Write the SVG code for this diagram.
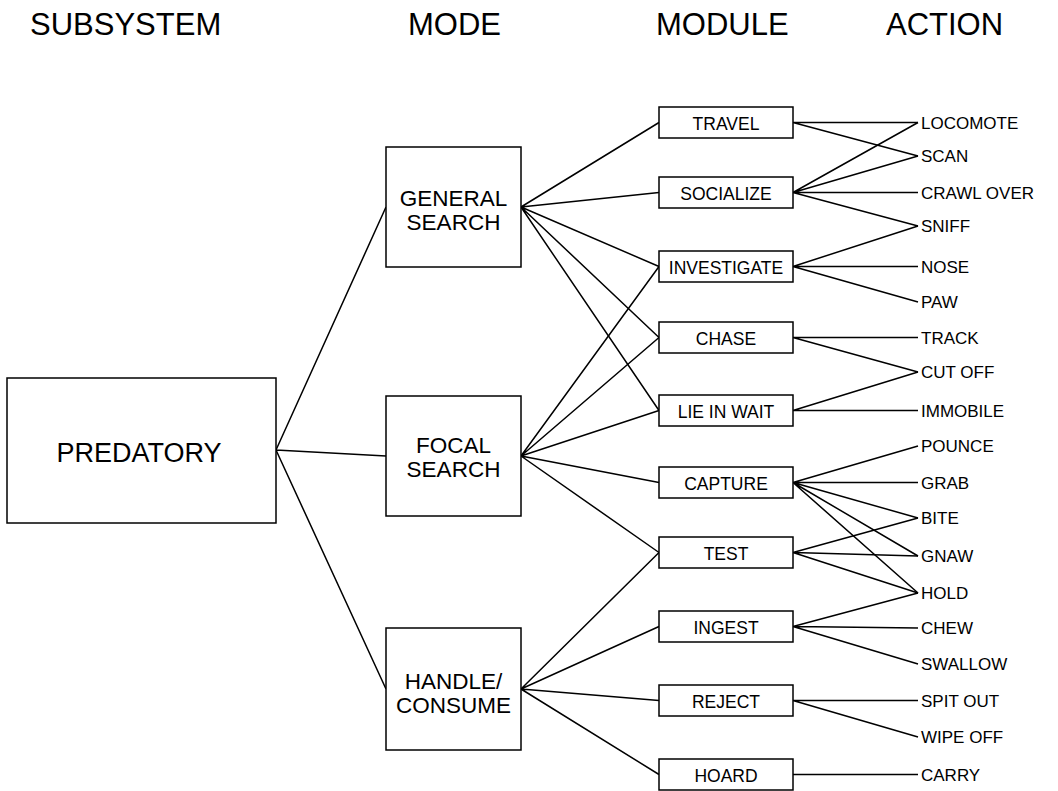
<svg xmlns="http://www.w3.org/2000/svg" width="1058" height="791" viewBox="0 0 1058 791">
<style>
.box{fill:#fff;stroke:#000;stroke-width:1.5}
.ln{stroke:#000;stroke-width:1.5;fill:none}
text{font-family:"Liberation Sans",Arial,sans-serif;fill:#000}
.hd{font-size:31px}
.md{font-size:22.5px;text-anchor:middle}
.mo{font-size:17.5px;text-anchor:middle}
.ac{font-size:17px}
</style>
<rect width="1058" height="791" fill="#fff"/>
<g id="headers">
<text class="hd" x="30" y="35">SUBSYSTEM</text>
<text class="hd" x="408" y="35">MODE</text>
<text class="hd" x="656" y="35">MODULE</text>
<text class="hd" x="886" y="35">ACTION</text>
</g>
<g id="connectors" class="ln">
<path d="M276 450L386 207M276 450L386 456M276 450L386 689"/>
<path d="M521 207L659 122.5M521 207L659 192.5M521 207L659 266.5M521 207L659 337.5M521 207L659 410.5"/>
<path d="M521 456L659 266.5M521 456L659 337.5M521 456L659 410.5M521 456L659 482.5M521 456L659 552.5"/>
<path d="M521 689L659 552.5M521 689L659 626.5M521 689L659 700.5M521 689L659 774.5"/>
<path d="M793 122.5L918 122.5M793 122.5L918 156"/>
<path d="M793 192.5L918 122.5M793 192.5L918 156M793 192.5L918 192.5M793 192.5L918 226"/>
<path d="M793 266.5L918 226M793 266.5L918 266.5M793 266.5L918 302"/>
<path d="M793 337.5L918 337.5M793 337.5L918 372"/>
<path d="M793 410.5L918 372M793 410.5L918 410.5"/>
<path d="M793 482.5L918 446M793 482.5L918 482.5M793 482.5L918 518M793 482.5L918 556M793 482.5L918 593"/>
<path d="M793 552.5L918 518M793 552.5L918 556M793 552.5L918 593"/>
<path d="M793 626.5L918 593M793 626.5L918 628M793 626.5L918 664"/>
<path d="M793 700.5L918 700.5M793 700.5L918 737"/>
<path d="M793 774.5L918 774.5"/>
</g>
<g id="predatory"><rect class="box" x="7" y="378" width="269" height="145"/><text x="139" y="462" font-size="27" text-anchor="middle">PREDATORY</text></g>
<g id="general-search"><rect class="box" x="386" y="147" width="135" height="120"/><text class="md" x="453.5" y="206">GENERAL</text><text class="md" x="453.5" y="230">SEARCH</text></g>
<g id="focal-search"><rect class="box" x="386" y="396" width="135" height="120"/><text class="md" x="453.5" y="453">FOCAL</text><text class="md" x="453.5" y="477">SEARCH</text></g>
<g id="handle-consume"><rect class="box" x="386" y="628" width="135" height="122"/><text class="md" x="453.5" y="689">HANDLE/</text><text class="md" x="453.5" y="713">CONSUME</text></g>
<g id="travel"><rect class="box" x="659" y="107" width="134" height="31"/><text class="mo" x="726" y="129.5">TRAVEL</text></g>
<g id="socialize"><rect class="box" x="659" y="177" width="134" height="31"/><text class="mo" x="726" y="199.5">SOCIALIZE</text></g>
<g id="investigate"><rect class="box" x="659" y="251" width="134" height="31"/><text class="mo" x="726" y="273.5">INVESTIGATE</text></g>
<g id="chase"><rect class="box" x="659" y="322" width="134" height="31"/><text class="mo" x="726" y="344.5">CHASE</text></g>
<g id="lie-in-wait"><rect class="box" x="659" y="395" width="134" height="31"/><text class="mo" x="726" y="417.5">LIE IN WAIT</text></g>
<g id="capture"><rect class="box" x="659" y="467" width="134" height="31"/><text class="mo" x="726" y="489.5">CAPTURE</text></g>
<g id="test"><rect class="box" x="659" y="537" width="134" height="31"/><text class="mo" x="726" y="559.5">TEST</text></g>
<g id="ingest"><rect class="box" x="659" y="611" width="134" height="31"/><text class="mo" x="726" y="633.5">INGEST</text></g>
<g id="reject"><rect class="box" x="659" y="685" width="134" height="31"/><text class="mo" x="726" y="707.5">REJECT</text></g>
<g id="hoard"><rect class="box" x="659" y="759" width="134" height="31"/><text class="mo" x="726" y="781.5">HOARD</text></g>
<g id="actions">
<text class="ac" x="921" y="128.5">LOCOMOTE</text>
<text class="ac" x="921" y="162">SCAN</text>
<text class="ac" x="921" y="198.5">CRAWL OVER</text>
<text class="ac" x="921" y="232">SNIFF</text>
<text class="ac" x="921" y="272.5">NOSE</text>
<text class="ac" x="921" y="308">PAW</text>
<text class="ac" x="921" y="343.5">TRACK</text>
<text class="ac" x="921" y="378">CUT OFF</text>
<text class="ac" x="921" y="416.5">IMMOBILE</text>
<text class="ac" x="921" y="452">POUNCE</text>
<text class="ac" x="921" y="488.5">GRAB</text>
<text class="ac" x="921" y="524">BITE</text>
<text class="ac" x="921" y="562">GNAW</text>
<text class="ac" x="921" y="599">HOLD</text>
<text class="ac" x="921" y="634">CHEW</text>
<text class="ac" x="921" y="670">SWALLOW</text>
<text class="ac" x="921" y="706.5">SPIT OUT</text>
<text class="ac" x="921" y="743">WIPE OFF</text>
<text class="ac" x="921" y="780.5">CARRY</text>
</g>
</svg>
